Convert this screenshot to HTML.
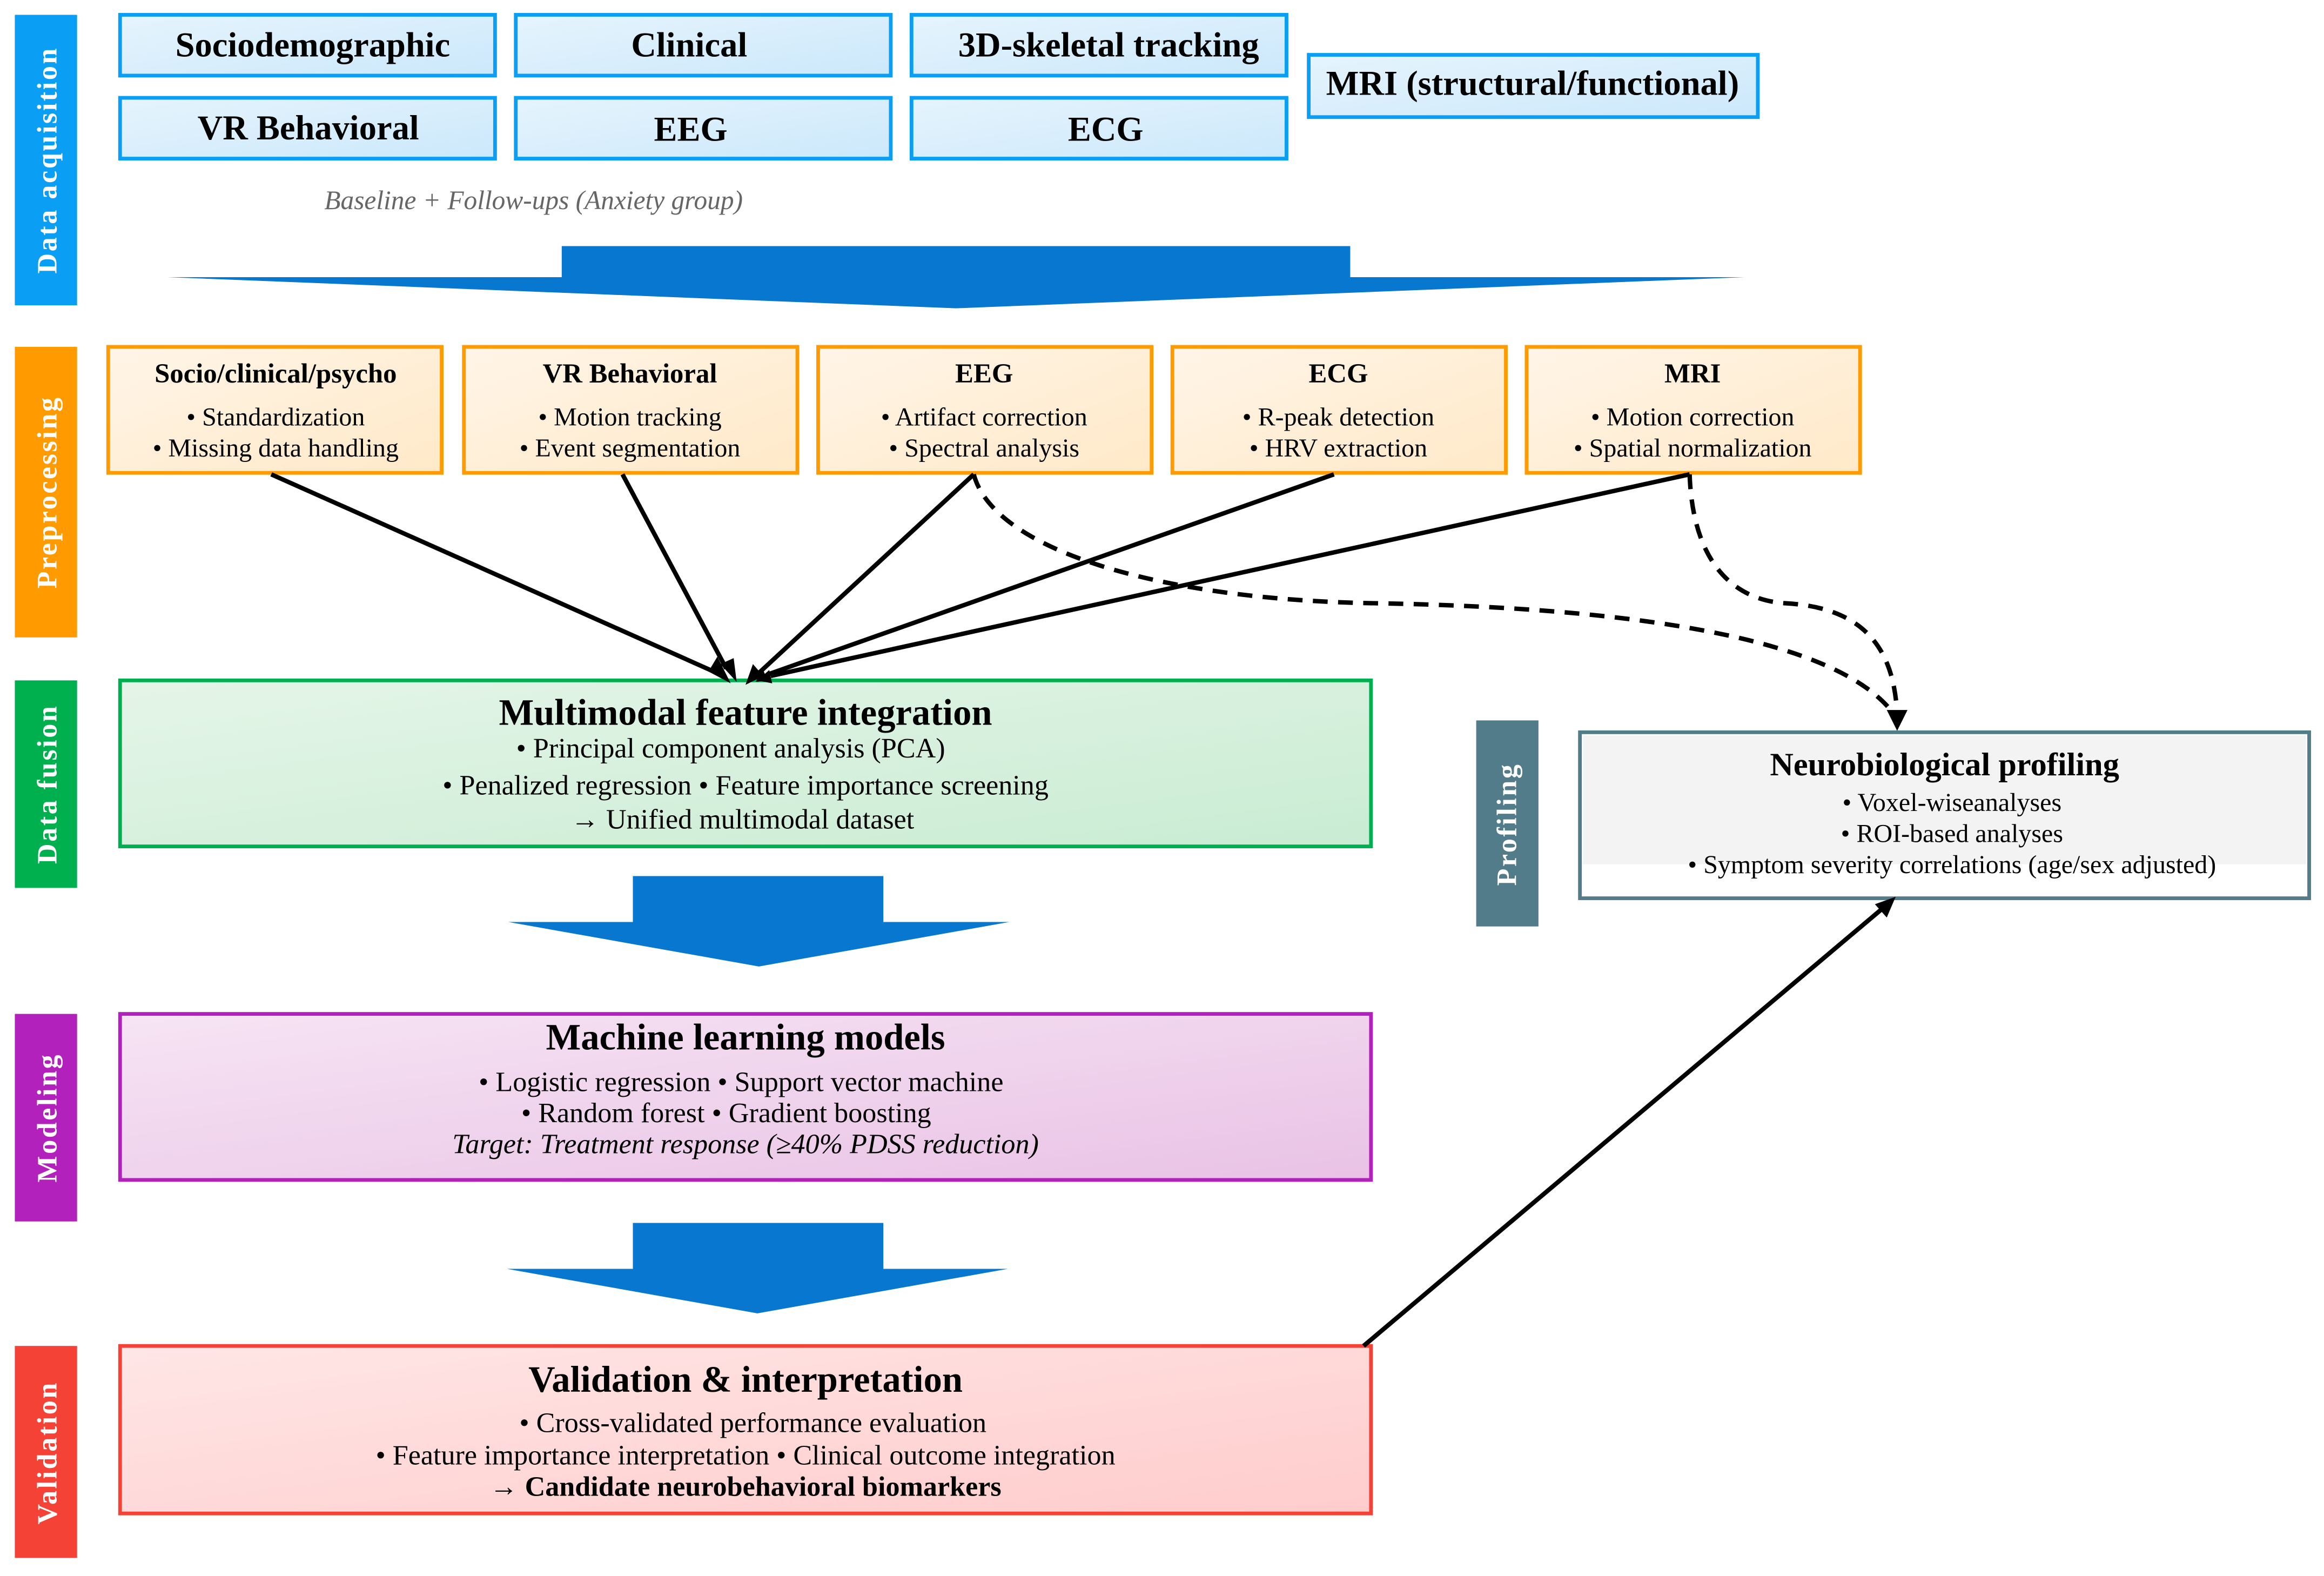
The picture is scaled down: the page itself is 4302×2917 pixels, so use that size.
<!DOCTYPE html>
<html><head><meta charset="utf-8"><style>
html,body{margin:0;padding:0;background:#fff;}
svg{display:block;}
text{font-family:"Liberation Serif","Times New Roman",serif;}
</style></head><body>
<svg id="s" width="4302" height="2917" viewBox="0 0 1568 1063.2" xmlns="http://www.w3.org/2000/svg">
<defs>
<linearGradient id="gb" x1="0" y1="0" x2="1" y2="1"><stop offset="0" stop-color="#e6f4fd"/><stop offset="1" stop-color="#cbe8fb"/></linearGradient>
<linearGradient id="go" x1="0" y1="0" x2="1" y2="1"><stop offset="0" stop-color="#fff5e8"/><stop offset="1" stop-color="#ffe9c8"/></linearGradient>
<linearGradient id="gg" x1="0" y1="0" x2="1" y2="1"><stop offset="0" stop-color="#e5f5e8"/><stop offset="1" stop-color="#c9ecd3"/></linearGradient>
<linearGradient id="gp" x1="0" y1="0" x2="1" y2="1"><stop offset="0" stop-color="#f6e4f4"/><stop offset="1" stop-color="#e9c2e5"/></linearGradient>
<linearGradient id="gr" x1="0" y1="0" x2="1" y2="1"><stop offset="0" stop-color="#ffe6e6"/><stop offset="1" stop-color="#ffcccc"/></linearGradient>
</defs>

<!-- side bars -->
<g font-weight="bold" fill="#fff" font-size="19" letter-spacing="1.3">
<rect x="10" y="10" width="42" height="196" fill="#0a9ff5"/>
<text transform="translate(38,108) rotate(-90)" text-anchor="middle">Data acquisition</text>
<rect x="10" y="234" width="42" height="196" fill="#ff9a00"/>
<text transform="translate(38,332) rotate(-90)" text-anchor="middle">Preprocessing</text>
<rect x="10" y="459" width="42" height="140" fill="#00b04f"/>
<text transform="translate(38,529) rotate(-90)" text-anchor="middle">Data fusion</text>
<rect x="10" y="684" width="42" height="140" fill="#b321bd"/>
<text transform="translate(38,754) rotate(-90)" text-anchor="middle">Modeling</text>
<rect x="10" y="908" width="42" height="143" fill="#f44336"/>
<text transform="translate(38,980) rotate(-90)" text-anchor="middle">Validation</text>
<rect x="996" y="486" width="42" height="139" fill="#527c8a"/>
<text transform="translate(1023,556) rotate(-90)" text-anchor="middle">Profiling</text>
</g>

<!-- acquisition boxes -->
<g fill="url(#gb)" stroke="#0a9ff5" stroke-width="2.5">
<rect x="81" y="10" width="253" height="41"/><rect x="348" y="10" width="253" height="41"/><rect x="615" y="10" width="253" height="41"/>
<rect x="81" y="66" width="253" height="41"/><rect x="348" y="66" width="253" height="41"/><rect x="615" y="66" width="253" height="41"/>
<rect x="883" y="37" width="303" height="42"/>
</g>
<g font-weight="bold" font-size="23.5" text-anchor="middle" fill="#000">
<text x="211" y="38">Sociodemographic</text><text x="465" y="38">Clinical</text><text x="748" y="38">3D-skeletal tracking</text>
<text x="208" y="94">VR Behavioral</text><text x="466" y="95">EEG</text><text x="746" y="95">ECG</text>
<text x="1034" y="64">MRI (structural/functional)</text>
</g>
<text x="360" y="141" font-style="italic" font-size="18" fill="#666" text-anchor="middle">Baseline + Follow-ups (Anxiety group)</text>

<!-- big arrows -->
<g fill="#0877cf">
<polygon points="379,166 911,166 911,187 1177,187 645,208 113,187 379,187"/>
<polygon points="427,591 596,591 596,622 681,622 512,652 343,622 427,622"/>
<polygon points="427,825 596,825 596,856 680,856 511,886 342,856 427,856"/>
</g>

<!-- preprocessing boxes -->
<g fill="url(#go)" stroke="#ff9a00" stroke-width="2.5">
<rect x="73" y="234" width="225" height="85"/><rect x="313" y="234" width="225" height="85"/><rect x="552" y="234" width="225" height="85"/>
<rect x="791" y="234" width="225" height="85"/><rect x="1030" y="234" width="225" height="85"/>
</g>
<g text-anchor="middle" font-size="17.5" fill="#000">
<text x="186" y="258" font-weight="bold" font-size="18.5">Socio/clinical/psycho</text>
<text x="186" y="287">• Standardization</text><text x="186" y="308">• Missing data handling</text>
<text x="425" y="258" font-weight="bold" font-size="18.5">VR Behavioral</text>
<text x="425" y="287">• Motion tracking</text><text x="425" y="308">• Event segmentation</text>
<text x="664" y="258" font-weight="bold" font-size="18.5">EEG</text>
<text x="664" y="287">• Artifact correction</text><text x="664" y="308">• Spectral analysis</text>
<text x="903" y="258" font-weight="bold" font-size="18.5">ECG</text>
<text x="903" y="287">• R-peak detection</text><text x="903" y="308">• HRV extraction</text>
<text x="1142" y="258" font-weight="bold" font-size="18.5">MRI</text>
<text x="1142" y="287">• Motion correction</text><text x="1142" y="308">• Spatial normalization</text>
</g>

<!-- fusion -->
<rect x="81" y="459" width="844" height="112" fill="url(#gg)" stroke="#00b04f" stroke-width="2.5"/>
<g text-anchor="middle" font-size="19" fill="#000">
<text x="503" y="489" font-weight="bold" font-size="25">Multimodal feature integration</text>
<text x="493" y="511">• Principal component analysis (PCA)</text>
<text x="503" y="536">• Penalized regression • Feature importance screening</text>
<text x="501" y="559">→ Unified multimodal dataset</text>
</g>

<!-- modeling -->
<rect x="81" y="684" width="844" height="112" fill="url(#gp)" stroke="#b321bd" stroke-width="2.5"/>
<g text-anchor="middle" font-size="19" fill="#000">
<text x="503" y="708" font-weight="bold" font-size="25">Machine learning models</text>
<text x="500" y="736">• Logistic regression • Support vector machine</text>
<text x="490" y="757">• Random forest • Gradient boosting</text>
<text x="503" y="778" font-style="italic">Target: Treatment response (≥40% PDSS reduction)</text>
</g>

<!-- validation -->
<rect x="81" y="908" width="844" height="113" fill="url(#gr)" stroke="#f44336" stroke-width="2.5"/>
<g text-anchor="middle" font-size="19" fill="#000">
<text x="503" y="939" font-weight="bold" font-size="25">Validation &amp; interpretation</text>
<text x="508" y="966">• Cross-validated performance evaluation</text>
<text x="503" y="988">• Feature importance interpretation • Clinical outcome integration</text>
<text x="503" y="1009" font-weight="bold">→ Candidate neurobehavioral biomarkers</text>
</g>

<!-- profiling box -->
<rect x="1066" y="494" width="492" height="112" fill="#fff" stroke="#527c8a" stroke-width="2.5"/>
<rect x="1068" y="496" width="488" height="87" fill="#f3f3f3"/>
<g text-anchor="middle" font-size="17.5" fill="#000">
<text x="1312" y="523" font-weight="bold" font-size="22">Neurobiological profiling</text>
<text x="1317" y="547">• Voxel-wiseanalyses</text>
<text x="1317" y="568">• ROI-based analyses</text>
<text x="1317" y="589">• Symptom severity correlations (age/sex adjusted)</text>
</g>

<!-- connectors -->
<g stroke="#000" stroke-width="3" fill="none">
<line x1="183" y1="320" x2="486" y2="455"/>
<line x1="420" y1="320" x2="490" y2="451"/>
<line x1="657" y1="320" x2="512" y2="454"/>
<line x1="900" y1="320" x2="518" y2="455"/>
<line x1="1140" y1="320" x2="520" y2="456"/>
<line x1="920" y1="908" x2="1270" y2="613"/>
<path d="M657,320 C670,370 780,405 930,407 C1100,410 1240,430 1278,482" stroke-dasharray="10,7"/>
<path d="M1140,320 C1142,380 1170,405 1205,407 C1260,410 1278,440 1280,482" stroke-dasharray="10,7"/>
</g>
<g fill="#000">
<polygon points="493,461 478,453 484,443"/>
<polygon points="497,460 486,448 495,444"/>
<polygon points="503,462 508,448 515,456"/>
<polygon points="510,460 514,450 518,459"/>
<polygon points="511,459 519,452 521,461"/>
<polygon points="1280,493 1273,479 1287,479"/>
<polygon points="1279,605 1273,619 1265,610"/>
</g>
</svg>
</body></html>
